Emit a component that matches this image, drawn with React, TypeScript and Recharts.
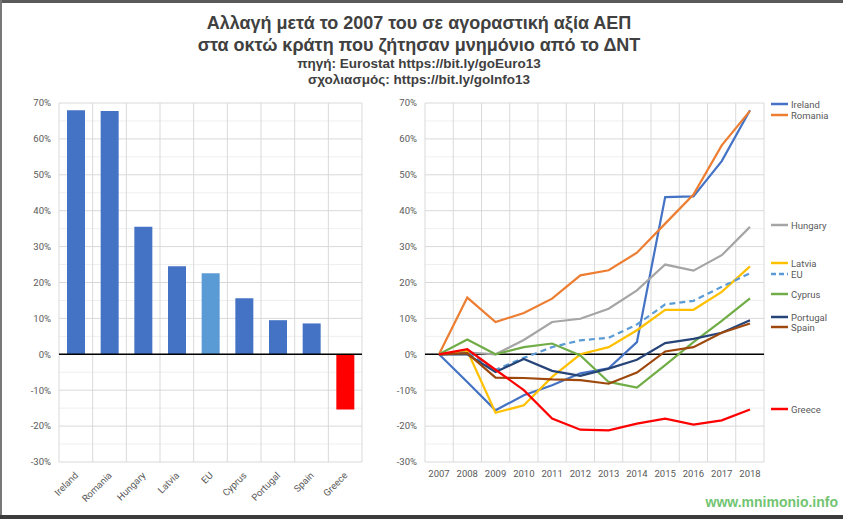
import React from 'react';
import {
  BarChart,
  Bar,
  Cell,
  LineChart,
  Line,
  XAxis,
  YAxis,
  CartesianGrid,
  ReferenceLine,
} from 'recharts';

// --- data (values in %) ---
const countries = ['Ireland', 'Romania', 'Hungary', 'Latvia', 'EU', 'Cyprus', 'Portugal', 'Spain', 'Greece'];
const change2018 = [68.0, 67.8, 35.5, 24.5, 22.6, 15.6, 9.5, 8.6, -15.4];

const years = ['2007', '2008', '2009', '2010', '2011', '2012', '2013', '2014', '2015', '2016', '2017', '2018'];
const ireland = [0, -7.7, -15.6, -11.4, -8.6, -5.3, -3.9, 3.4, 43.8, 44.0, 53.8, 68.0];
const romania = [0, 15.8, 9.0, 11.5, 15.5, 22.0, 23.4, 28.3, 36.4, 44.5, 58.2, 67.8];
const hungary = [0, 0.5, 0, 4.0, 9.0, 9.9, 12.7, 17.8, 25.0, 23.3, 27.6, 35.5];
const latvia = [0, 1.0, -16.3, -14.2, -6.3, 0, 2.0, 6.7, 12.4, 12.4, 17.4, 24.5];
const eu = [0, 0.5, -4.3, -1.0, 2.0, 3.9, 4.6, 8.3, 13.9, 14.9, 18.8, 22.6];
const cyprus = [0, 4.1, 0, 2.0, 3.0, -0.3, -7.7, -9.3, -3.0, 3.4, 9.3, 15.6];
const portugal = [0, 0, -4.9, -1.3, -4.6, -6.0, -4.0, -1.5, 3.1, 4.3, 6.0, 9.5];
const spain = [0, 0.3, -6.5, -6.6, -7.0, -7.2, -8.2, -5.1, 0.8, 2.0, 6.0, 8.6];
const greece = [0, 1.4, -4.3, -10.0, -17.9, -21.0, -21.2, -19.3, -17.9, -19.6, -18.4, -15.4];

const yMin = -30;
const yMax = 70;
const yTicks = [-30, -20, -10, 0, 10, 20, 30, 40, 50, 60, 70];
const minorTicks = [-25, -15, -5, 5, 15, 25, 35, 45, 55, 65];

// --- styles ---
const barColor: Record<string, string> = { EU: '#5B9BD5', Greece: '#FF0000' };
const seriesStyle = [
  { key: 'Ireland', values: ireland, color: '#4472C4' },
  { key: 'Romania', values: romania, color: '#ED7D31' },
  { key: 'Hungary', values: hungary, color: '#A5A5A5' },
  { key: 'Latvia', values: latvia, color: '#FFC000' },
  { key: 'EU', values: eu, color: '#5B9BD5', dash: '6 4' },
  { key: 'Cyprus', values: cyprus, color: '#70AD47' },
  { key: 'Portugal', values: portugal, color: '#264478' },
  { key: 'Spain', values: spain, color: '#9E480E' },
  { key: 'Greece', values: greece, color: '#FF0000' },
];
// legend label placement (px from top of the picture), as in the original
const legendTop: Record<string, number> = {
  Ireland: 104, Romania: 115, Hungary: 225, Latvia: 263, EU: 274,
  Cyprus: 294, Portugal: 317, Spain: 327, Greece: 409,
};

const barData = countries.map((c, i) => ({ country: c, value: change2018[i] }));
const lineData = years.map((y, i) => {
  const row: Record<string, string | number> = { year: y };
  seriesStyle.forEach(s => { row[s.key] = s.values[i]; });
  return row;
});

const FONT = 'Roboto, "Liberation Sans", sans-serif';
const tickStyle = { fill: '#595959', fontSize: 9.5, fontFamily: FONT };
const pct = (v: number) => `${v}%`;

// vertical grid lines at category boundaries (Excel style)
const cellBoundaries = (n: number) => ({ offset }: any) =>
  Array.from({ length: n + 1 }, (_, i) => offset.left + (i * offset.width) / n);

// light minor gridlines half way between the major ones
const minorRows = ({ offset }: any) =>
  minorTicks.map(v => offset.top + ((yMax - v) / (yMax - yMin)) * offset.height);

const SlantTick = (props: any) => {
  const { x, y, payload } = props;
  const ox = x + 3;
  const oy = y + 6;
  return (
    <text
      x={ox}
      y={oy}
      transform={`rotate(-45, ${ox}, ${oy})`}
      textAnchor="end"
      fontSize={9.5}
      fontFamily={FONT}
      fill="#595959"
    >
      {payload.value}
    </text>
  );
};

export default function App() {
  return (
    <div
      style={{
        position: 'absolute',
        left: 0,
        top: 0,
        width: 843,
        height: 519,
        background: '#fff',
        overflow: 'hidden',
        fontFamily: FONT,
      }}
    >
      {/* frame */}
      <div style={{ position: 'absolute', left: 0, top: 0, width: 843, height: 3, background: '#5a5a5a' }} />
      <div style={{ position: 'absolute', left: 0, top: 0, width: 2, height: 519, background: '#777' }} />
      <div style={{ position: 'absolute', left: 0, top: 515, width: 843, height: 4, background: '#3c3c3c' }} />

      {/* titles */}
      <div
        style={{
          position: 'absolute',
          left: 0,
          top: 12,
          width: 838,
          textAlign: 'center',
          color: '#404040',
          fontFamily: '"Liberation Sans", Arial, sans-serif',
          fontWeight: 'bold',
        }}
      >
        <div style={{ fontSize: 18, lineHeight: '22px' }}>Αλλαγή μετά το 2007 του σε αγοραστική αξία ΑΕΠ</div>
        <div style={{ fontSize: 18, lineHeight: '22px' }}>στα οκτώ κράτη που ζήτησαν μνημόνιο από το ΔΝΤ</div>
        <div style={{ fontSize: 13.5, lineHeight: '16px' }}>πηγή: Eurostat https://bit.ly/goEuro13</div>
        <div style={{ fontSize: 13.5, lineHeight: '16px' }}>σχολιασμός: https://bit.ly/goInfo13</div>
      </div>

      {/* left: bar chart of the 2018 level */}
      <div style={{ position: 'absolute', left: 0, top: 95 }}>
        <BarChart width={370} height={415} data={barData} margin={{ top: 8, right: 8, bottom: 8, left: 5 }}>
          <CartesianGrid vertical={false} stroke="#efefef" horizontalCoordinatesGenerator={minorRows} />
          <CartesianGrid vertical={false} stroke="#d9d9d9" />
          <CartesianGrid horizontal={false} stroke="#d9d9d9" verticalCoordinatesGenerator={cellBoundaries(countries.length)} />
          <XAxis dataKey="country" axisLine={false} tickLine={false} interval={0} height={40} tick={<SlantTick />} />
          <YAxis
            type="number"
            domain={[yMin, yMax]}
            ticks={yTicks}
            tickFormatter={pct}
            axisLine={false}
            tickLine={false}
            width={54}
            tick={tickStyle}
            interval={0}
          />
          <Bar dataKey="value" barSize={18} isAnimationActive={false}>
            {barData.map(d => (
              <Cell key={d.country} fill={barColor[d.country] || '#4472C4'} />
            ))}
          </Bar>
          <ReferenceLine y={0} stroke="#000" strokeWidth={1.5} />
        </BarChart>
      </div>

      {/* right: yearly path */}
      <div style={{ position: 'absolute', left: 380, top: 95 }}>
        <LineChart width={392} height={415} data={lineData} margin={{ top: 8, right: 8, bottom: 18, left: 5 }}>
          <CartesianGrid vertical={false} stroke="#efefef" horizontalCoordinatesGenerator={minorRows} />
          <CartesianGrid vertical={false} stroke="#d9d9d9" />
          <CartesianGrid horizontal={false} stroke="#d9d9d9" verticalCoordinatesGenerator={cellBoundaries(years.length)} />
          <ReferenceLine y={0} stroke="#000" strokeWidth={1.5} />
          <XAxis
            dataKey="year"
            axisLine={false}
            tickLine={false}
            interval={0}
            height={30}
            padding={{ left: 14, right: 14 }}
            tick={tickStyle}
          />
          <YAxis
            type="number"
            domain={[yMin, yMax]}
            ticks={yTicks}
            tickFormatter={pct}
            axisLine={false}
            tickLine={false}
            width={40}
            tick={tickStyle}
            interval={0}
          />
          {seriesStyle.map(s => (
            <Line
              key={s.key}
              dataKey={s.key}
              stroke={s.color}
              strokeWidth={2.2}
              strokeDasharray={s.dash}
              dot={false}
              activeDot={false}
              type="linear"
              isAnimationActive={false}
            />
          ))}
        </LineChart>
      </div>

      {/* legend */}
      {seriesStyle.map(s => (
        <div
          key={s.key}
          style={{
            position: 'absolute',
            left: 771,
            top: legendTop[s.key] - 7,
            height: 14,
            display: 'flex',
            alignItems: 'center',
            fontSize: 9.5,
            color: '#595959',
            fontFamily: FONT,
          }}
        >
          <svg width={17} height={4} style={{ marginRight: 3 }}>
            <line x1={0} y1={2} x2={17} y2={2} stroke={s.color} strokeWidth={2.5} strokeDasharray={s.dash ? '5 3' : undefined} />
          </svg>
          {s.key}
        </div>
      ))}

      {/* watermark */}
      <div
        style={{
          position: 'absolute',
          left: 700,
          top: 494,
          width: 138,
          textAlign: 'right',
          fontSize: 14,
          fontWeight: 'bold',
          color: '#72c472',
          fontFamily: '"Liberation Sans", Arial, sans-serif',
        }}
      >
        www.mnimonio.info
      </div>
    </div>
  );
}
